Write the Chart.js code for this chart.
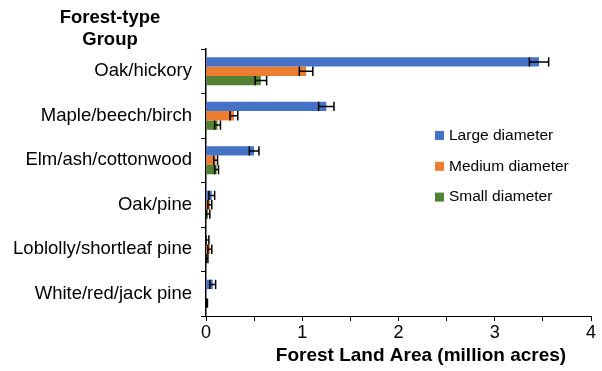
<!DOCTYPE html>
<html>
<head>
<meta charset="utf-8">
<script src="https://cdn.jsdelivr.net/npm/chart.js@4.4.1/dist/chart.umd.min.js"></script>
<style>
  html, body { margin: 0; padding: 0; background: #fff; }
  #wrap { width: 602px; height: 371px; }
</style>
</head>
<body>
<div id="wrap"><canvas id="c" width="602" height="371"></canvas></div>
<script>
// Forest-type groups and forest land area by stand-size class (million acres)
const groups = ['Oak/hickory', 'Maple/beech/birch', 'Elm/ash/cottonwood', 'Oak/pine', 'Loblolly/shortleaf pine', 'White/red/jack pine'];
const largeDiameter  = [3.46, 1.25, 0.50, 0.06, 0.01, 0.07];
const mediumDiameter = [1.04, 0.29, 0.10, 0.04, 0.04, 0.00];
const smallDiameter  = [0.57, 0.12, 0.11, 0.02, 0.01, 0.005];
// Sampling errors (+/-)
const largeError  = [0.10, 0.08, 0.05, 0.03, 0.02, 0.03];
const mediumError = [0.07, 0.04, 0.02, 0.02, 0.02, 0.00];
const smallError  = [0.06, 0.03, 0.02, 0.02, 0.01, 0.01];
const xTicks = [0, 1, 2, 3, 4];

const FONT = "'Liberation Sans', Arial, sans-serif";

const series = [
  { label: 'Large diameter',  data: largeDiameter,  err: largeError,  color: '#4472C4' },
  { label: 'Medium diameter', data: mediumDiameter, err: mediumError, color: '#ED7D31' },
  { label: 'Small diameter',  data: smallDiameter,  err: smallError,  color: '#548235' }
];

// Horizontal error bars with end caps
const errorBars = {
  id: 'errorBars',
  afterDatasetsDraw(chart) {
    const ctx = chart.ctx;
    const xs = chart.scales.x;
    ctx.save();
    ctx.strokeStyle = '#000';
    ctx.lineWidth = 1.5;
    chart.data.datasets.forEach((ds, di) => {
      const meta = chart.getDatasetMeta(di);
      meta.data.forEach((bar, i) => {
        const v = ds.data[i], e = ds.errors[i];
        if (!e) return;
        const x1 = xs.getPixelForValue(Math.max(0, v - e));
        const x2 = xs.getPixelForValue(v + e);
        const y = bar.y;
        const h = bar.height / 2;
        ctx.beginPath();
        ctx.moveTo(x1, y); ctx.lineTo(x2, y);
        ctx.moveTo(x1, y - h); ctx.lineTo(x1, y + h);
        ctx.moveTo(x2, y - h); ctx.lineTo(x2, y + h);
        ctx.stroke();
      });
    });
    ctx.restore();
  }
};

// Axis titles and legend
const annotations = {
  id: 'annotations',
  afterDraw(chart) {
    const ctx = chart.ctx;
    ctx.save();
    ctx.fillStyle = '#000';
    ctx.textAlign = 'center';
    ctx.textBaseline = 'middle';
    ctx.font = 'bold 18.5px ' + FONT;
    ctx.fillText('Forest-type', 110, 18);
    ctx.fillText('Group', 110, 40);
    ctx.font = 'bold 19px ' + FONT;
    ctx.fillText('Forest Land Area (million acres)', 421, 356);

    ctx.font = '15.5px ' + FONT;
    ctx.textAlign = 'left';
    series.forEach((s, i) => {
      const y = 135.5 + i * 30.8;
      ctx.fillStyle = s.color;
      ctx.fillRect(435, y - 4.5, 9, 9);
      ctx.fillStyle = '#000';
      ctx.fillText(s.label, 449, y);
    });
    ctx.restore();
  }
};

new Chart(document.getElementById('c'), {
  type: 'bar',
  data: {
    labels: groups,
    datasets: series.map(s => ({
      label: s.label,
      data: s.data,
      errors: s.err,
      backgroundColor: s.color,
      borderWidth: 0,
      categoryPercentage: 0.63,
      barPercentage: 1.0
    }))
  },
  options: {
    indexAxis: 'y',
    responsive: false,
    animation: false,
    layout: { padding: { top: 49, right: 11, left: 0, bottom: 0 } },
    plugins: { legend: { display: false }, tooltip: { enabled: false } },
    scales: {
      x: {
        min: 0, max: 4,
        afterFit(scale) { scale.height = 55; },
        afterBuildTicks(scale) {
          const t = [];
          for (let v = 0; v <= 4; v += 0.5) t.push({ value: v });
          scale.ticks = t;
        },
        ticks: {
          autoSkip: false,
          maxRotation: 0,
          padding: 1,
          color: '#000',
          font: { family: FONT, size: 18 },
          callback: v => xTicks.includes(v) ? String(v) : ''
        },
        grid: { drawOnChartArea: false, tickLength: 5, color: '#000', lineWidth: 1 },
        border: { color: '#000', width: 1 }
      },
      y: {
        afterFit(scale) { scale.width = 206; },
        ticks: {
          color: '#000',
          padding: 9,
          font: { family: FONT, size: 18.5 }
        },
        grid: { drawOnChartArea: false, tickLength: 5, color: '#000', lineWidth: 1, offset: true },
        border: { color: '#000', width: 1.5 }
      }
    }
  },
  plugins: [errorBars, annotations]
});
</script>
</body>
</html>
